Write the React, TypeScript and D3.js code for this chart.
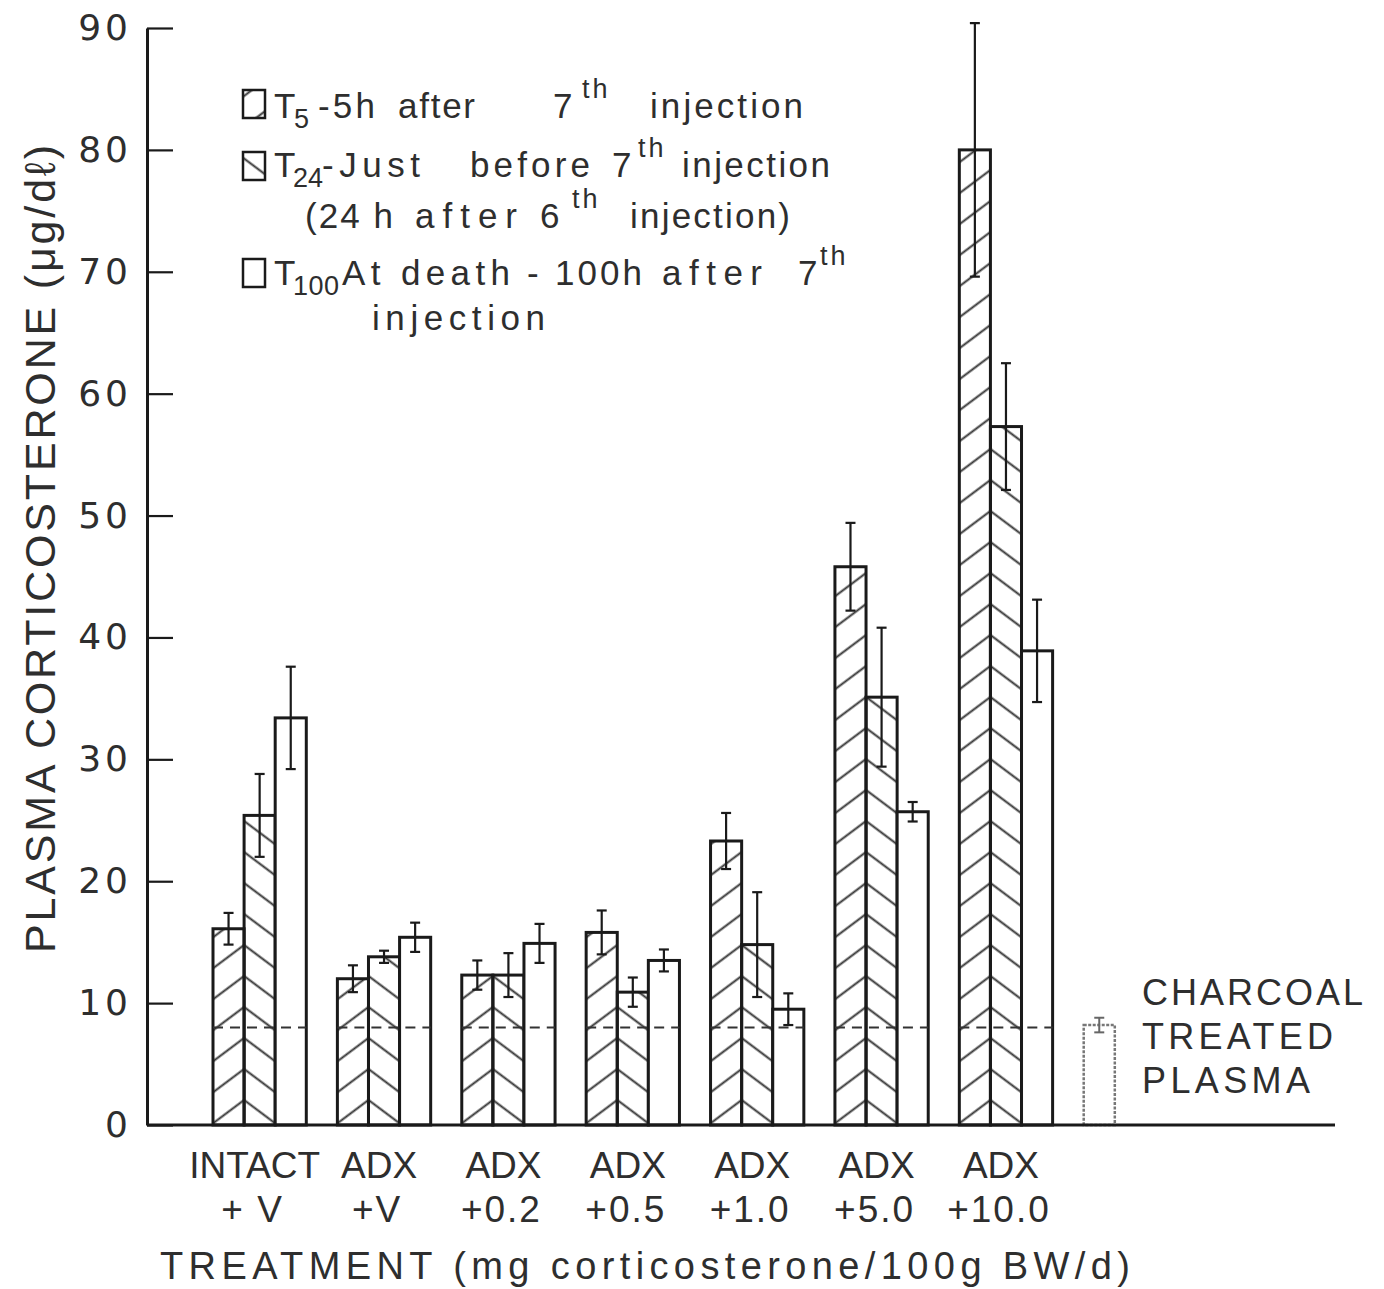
import React, { useRef, useEffect } from "react";
import * as d3 from "d3";

// treatment groups (two label rows under the x axis)
const groupTop = ["INTACT", "ADX", "ADX", "ADX", "ADX", "ADX", "ADX"];
const groupBottom = ["+ V", "+V", "+0.2", "+0.5", "+1.0", "+5.0", "+10.0"];
const seriesKeys = ["t5", "t24", "t100"];

// plasma corticosterone, ug/dl (mean and SE)
const t5 = [16.1, 12.0, 12.3, 15.8, 23.3, 45.8, 80.0];
const t5Err = [1.3, 1.1, 1.2, 1.8, 2.3, 3.6, 10.4];
const t24 = [25.4, 13.8, 12.3, 10.9, 14.8, 35.1, 57.3];
const t24Err = [3.4, 0.5, 1.8, 1.2, 4.3, 5.7, 5.2];
const t100 = [33.4, 15.4, 14.9, 13.5, 9.5, 25.7, 38.9];
const t100Err = [4.2, 1.2, 1.6, 0.9, 1.3, 0.8, 4.2];

const charcoal = 8.2;
const charcoalErr = 0.6;
const charcoalLabel = ["CHARCOAL", "TREATED", "PLASMA"];
const refLevel = 8;

const yTicks = [0, 10, 20, 30, 40, 50, 60, 70, 80, 90];

const FONT = "'Liberation Sans', 'DejaVu Sans', Arial, sans-serif";
const INK = "#1a1a1a";
const TXT = "#2e2e2e";

export default function App() {
  const ref = useRef<SVGSVGElement>(null);
  const width = 1384;
  const height = 1289;

  useEffect(() => {
    const svg = d3.select(ref.current);
    svg.selectAll("*").remove();

    const y = d3.scaleLinear().domain([0, 90]).range([1125, 28]);
    const x = d3.scaleBand()
      .domain([...groupBottom, "charcoal"])
      .range([213, 1177])
      .paddingInner(0.25)
      .paddingOuter(0);
    const sub = d3.scaleBand().domain(seriesKeys).range([0, x.bandwidth()]);

    const series = [
      { key: "t5", vals: t5, errs: t5Err },
      { key: "t24", vals: t24, errs: t24Err },
      { key: "t100", vals: t100, errs: t100Err },
    ];

    // hatch patterns: T5 "/" and T24 "\" meet at shared edge -> chevrons
    const angle = 36.87;
    const gap = 31 * Math.cos((angle * Math.PI) / 180);
    const defs = svg.append("defs");
    const hatch = (id: string, x0: number, y0: number, dir: number) => {
      const p = defs.append("pattern")
        .attr("id", id)
        .attr("patternUnits", "userSpaceOnUse")
        .attr("width", 400)
        .attr("height", gap)
        .attr("patternTransform", `translate(${x0},${y0}) rotate(${dir * angle})`);
      p.append("line")
        .attr("x1", 0).attr("x2", 400)
        .attr("y1", gap / 2).attr("y2", gap / 2)
        .attr("stroke", "#333").attr("stroke-width", 2);
    };
    groupBottom.forEach((g, i) => {
      const xb = (x(g) as number) + (sub("t24") as number);
      hatch(`h5-${i}`, xb, y(0) - 9.5, -1);
      hatch(`h24-${i}`, xb, y(0) - 9.5, 1);
    });

    // bars
    const bars = svg.append("g");
    series.forEach((s) => {
      bars.selectAll(`rect.${s.key}`)
        .data(s.vals)
        .join("rect")
        .attr("x", (d, i) => (x(groupBottom[i]) as number) + (sub(s.key) as number))
        .attr("y", (d) => y(d))
        .attr("width", sub.bandwidth())
        .attr("height", (d) => y(0) - y(d))
        .attr("fill", (d, i) =>
          s.key === "t5" ? `url(#h5-${i})` : s.key === "t24" ? `url(#h24-${i})` : "#fff")
        .attr("stroke", INK)
        .attr("stroke-width", 3);
    });

    // dashed reference level over each group
    svg.append("g")
      .selectAll("line")
      .data(groupBottom)
      .join("line")
      .attr("x1", (g) => x(g) as number)
      .attr("x2", (g) => (x(g) as number) + x.bandwidth())
      .attr("y1", y(refLevel))
      .attr("y2", y(refLevel))
      .attr("stroke", "#333")
      .attr("stroke-width", 2)
      .attr("stroke-dasharray", "10,7");

    // error bars
    const errG = svg.append("g").attr("stroke", INK).attr("stroke-width", 2.2);
    series.forEach((s) => {
      s.vals.forEach((v, i) => {
        const cx = (x(groupBottom[i]) as number) + (sub(s.key) as number) + sub.bandwidth() / 2;
        const top = y(v + s.errs[i]);
        const bot = y(v - s.errs[i]);
        errG.append("line").attr("x1", cx).attr("x2", cx).attr("y1", top).attr("y2", bot);
        errG.append("line").attr("x1", cx - 5).attr("x2", cx + 5).attr("y1", top).attr("y2", top);
        errG.append("line").attr("x1", cx - 5).attr("x2", cx + 5).attr("y1", bot).attr("y2", bot);
      });
    });

    // charcoal treated plasma bar (faint, dotted)
    const cxs = x("charcoal") as number;
    const cw = sub.bandwidth();
    svg.append("rect")
      .attr("x", cxs).attr("y", y(charcoal))
      .attr("width", cw).attr("height", y(0) - y(charcoal))
      .attr("fill", "#fff")
      .attr("stroke", "#777").attr("stroke-width", 2.5)
      .attr("stroke-dasharray", "3,1.5");
    const cc = cxs + cw / 2;
    const cg = svg.append("g").attr("stroke", "#666").attr("stroke-width", 2);
    cg.append("line").attr("x1", cc).attr("x2", cc).attr("y1", y(charcoal + charcoalErr)).attr("y2", y(charcoal - charcoalErr));
    cg.append("line").attr("x1", cc - 5).attr("x2", cc + 5).attr("y1", y(charcoal + charcoalErr)).attr("y2", y(charcoal + charcoalErr));
    cg.append("line").attr("x1", cc - 5).attr("x2", cc + 5).attr("y1", y(charcoal - charcoalErr)).attr("y2", y(charcoal - charcoalErr));

    const charW = [221, 191, 168];
    svg.append("g")
      .selectAll("text")
      .data(charcoalLabel)
      .join("text")
      .attr("x", 1142)
      .attr("y", (d, i) => 1005 + i * 44)
      .attr("textLength", (d, i) => charW[i])
      .attr("lengthAdjust", "spacing")
      .attr("font-family", FONT)
      .attr("font-size", 36)
      .attr("fill", TXT)
      .text((d) => d);

    // axes
    const yAxis = svg.append("g")
      .attr("transform", "translate(147,0)")
      .call(d3.axisLeft(y).tickValues(yTicks).tickSizeInner(-26).tickSizeOuter(0).tickPadding(15));
    yAxis.select(".domain").attr("stroke", INK).attr("stroke-width", 3);
    yAxis.selectAll(".tick line").attr("stroke", INK).attr("stroke-width", 2.2);
    yAxis.selectAll(".tick text")
      .attr("font-family", "'DejaVu Sans', sans-serif")
      .attr("font-size", 36)
      .attr("letter-spacing", 4)
      .attr("fill", TXT);

    svg.append("line")
      .attr("x1", 147).attr("x2", 1335)
      .attr("y1", y(0)).attr("y2", y(0))
      .attr("stroke", INK).attr("stroke-width", 3);

    // x labels
    const lab = svg.append("g").attr("font-family", FONT).attr("fill", TXT).attr("text-anchor", "middle");
    lab.selectAll("text.top")
      .data(groupTop)
      .join("text")
      .attr("class", "top")
      .attr("x", (d, i) => (x(groupBottom[i]) as number) + x.bandwidth() / 2 - 5)
      .attr("y", 1178)
      .attr("font-size", 37)
      .text((d) => d);
    lab.selectAll("text.bot")
      .data(groupBottom)
      .join("text")
      .attr("class", "bot")
      .attr("x", (d) => (x(d) as number) + x.bandwidth() / 2 - 7)
      .attr("y", 1222)
      .attr("font-size", 37)
      .attr("letter-spacing", 2)
      .text((d) => d);

    svg.append("text")
      .attr("x", 160).attr("y", 1279)
      .attr("textLength", 970).attr("lengthAdjust", "spacing")
      .attr("font-family", FONT).attr("font-size", 38).attr("fill", TXT)
      .text("TREATMENT (mg corticosterone/100g BW/d)");

    svg.append("text")
      .attr("transform", "translate(55,549) rotate(-90)")
      .attr("text-anchor", "middle")
      .attr("textLength", 808).attr("lengthAdjust", "spacing")
      .attr("font-family", FONT).attr("font-size", 43).attr("fill", TXT)
      .text("PLASMA CORTICOSTERONE (\u03bcg/d\u2113)");

    // legend
    const leg = svg.append("g").attr("font-family", FONT).attr("fill", TXT);
    const boxes = [
      { y: 90, fill: "url(#leg5)" },
      { y: 152, fill: "url(#leg24)" },
      { y: 259, fill: "#fff" },
    ];
    hatch("leg5", 254, 104, -1);
    hatch("leg24", 254, 166 - 15.5, 1);
    leg.selectAll("rect")
      .data(boxes)
      .join("rect")
      .attr("x", 243).attr("y", (d) => d.y)
      .attr("width", 22).attr("height", 28)
      .attr("fill", (d) => d.fill)
      .attr("stroke", INK).attr("stroke-width", 2.5);

    type Seg = { t: string; x: number; w?: number; k?: "sub" | "sup" };
    const rows: { base: number; segs: Seg[] }[] = [
      { base: 118, segs: [
        { t: "T", x: 274 }, { t: "5", x: 294, k: "sub" },
        { t: "-5h", x: 318, w: 57 }, { t: "after", x: 398, w: 77 },
        { t: "7", x: 553 }, { t: "th", x: 582, k: "sup" },
        { t: "injection", x: 650, w: 153 },
      ] },
      { base: 177, segs: [
        { t: "T", x: 274 }, { t: "24", x: 293, w: 30, k: "sub" },
        { t: "-Just", x: 322, w: 98 }, { t: "before", x: 470, w: 120 },
        { t: "7", x: 612 }, { t: "th", x: 638, k: "sup" },
        { t: "injection", x: 682, w: 148 },
      ] },
      { base: 228, segs: [
        { t: "(24 h", x: 305, w: 88 }, { t: "after", x: 415, w: 102 },
        { t: "6", x: 540 }, { t: "th", x: 572, k: "sup" },
        { t: "injection)", x: 630, w: 160 },
      ] },
      { base: 285, segs: [
        { t: "T", x: 274 }, { t: "100", x: 293, w: 46, k: "sub" },
        { t: "At death", x: 342, w: 168 }, { t: "-", x: 527 },
        { t: "100h", x: 555, w: 87 }, { t: "after", x: 662, w: 100 },
        { t: "7", x: 798 }, { t: "th", x: 820, k: "sup" },
      ] },
      { base: 330, segs: [{ t: "injection", x: 372, w: 173 }] },
    ];
    rows.forEach((r) => {
      r.segs.forEach((s) => {
        const t = leg.append("text")
          .attr("x", s.x)
          .attr("y", r.base + (s.k === "sub" ? 10 : s.k === "sup" ? -20 : 0))
          .attr("font-size", s.k ? 27 : 35)
          .text(s.t);
        if (s.k === "sup") t.attr("letter-spacing", 3);
        if (s.w) t.attr("textLength", s.w).attr("lengthAdjust", "spacing");
      });
    });
  }, []);

  return (
    <svg
      ref={ref}
      width={width}
      height={height}
      style={{ position: "absolute", left: 0, top: 0, background: "#fff" }}
    />
  );
}
